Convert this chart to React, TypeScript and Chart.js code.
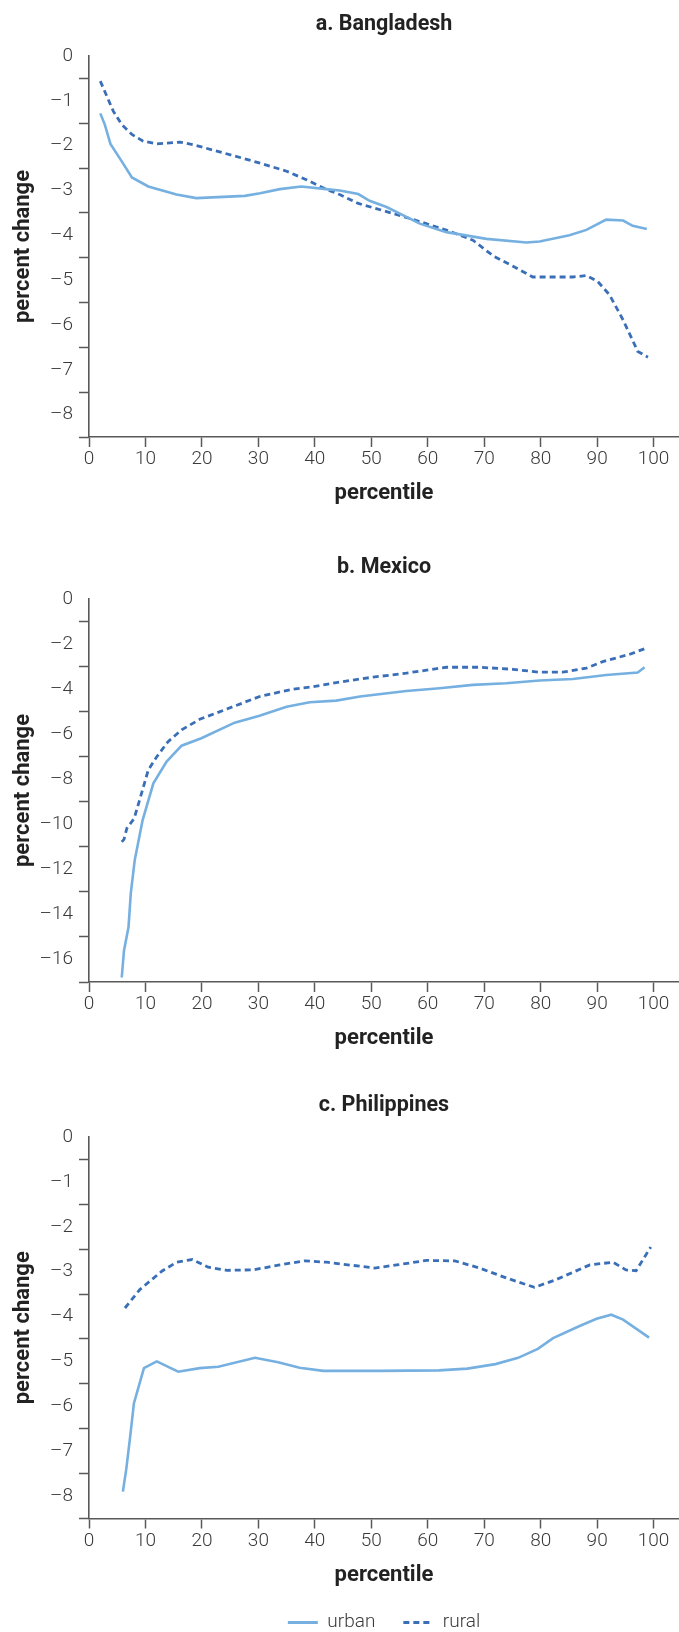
import React, { useEffect, useRef } from "react";
import { Chart, registerables } from "chart.js";

Chart.register(...registerables);

// ---------- data ----------
const xTickValues = [0, 10, 20, 30, 40, 50, 60, 70, 80, 90, 100];
const seriesNames = ["urban", "rural"];
const panelTitles = ["a. Bangladesh", "b. Mexico", "c. Philippines"];

const bdYLabels = [0, -1, -2, -3, -4, -5, -6, -7, -8];
const mxYLabels = [0, -2, -4, -6, -8, -10, -12, -14, -16];
const phYLabels = [0, -1, -2, -3, -4, -5, -6, -7, -8];

// a. Bangladesh
const bdUrbanX = [2, 2.8, 3.8, 5.8, 7.6, 10.5, 15.5, 19, 27.6, 30.3, 33.8, 37.6, 42, 44.4, 47.7, 49.7, 52.7, 58.6, 63.3, 70.4, 77.5, 79.8, 85.1, 88.1, 91.6, 94.6, 96.3, 98.8];
const bdUrbanY = [-1.28, -1.53, -1.96, -2.35, -2.71, -2.91, -3.09, -3.17, -3.12, -3.06, -2.97, -2.91, -2.97, -3.0, -3.08, -3.23, -3.37, -3.74, -3.93, -4.08, -4.16, -4.14, -4.0, -3.88, -3.65, -3.67, -3.79, -3.86];
const bdRuralX = [2, 4.3, 5.8, 7.6, 9.6, 12, 16.1, 18.5, 25.5, 30.3, 35, 38.5, 42.1, 44.4, 47.7, 52.7, 58, 63.9, 68, 71.6, 75.1, 78.6, 85.7, 88.1, 90.1, 92.2, 94.6, 97.2, 99];
const bdRuralY = [-0.56, -1.23, -1.53, -1.75, -1.9, -1.96, -1.92, -1.98, -2.22, -2.39, -2.57, -2.76, -2.98, -3.09, -3.29, -3.47, -3.67, -3.91, -4.11, -4.46, -4.69, -4.93, -4.93, -4.9, -5.03, -5.33, -5.89, -6.59, -6.72];

// b. Mexico
const mxUrbanX = [5.8, 6.2, 7.0, 7.4, 8.1, 9.5, 11.4, 13.75, 16.4, 19.9, 25.8, 30.2, 35, 39.1, 43.8, 48, 56.2, 62.1, 68, 73.9, 79.8, 85.7, 91.6, 97.2, 98.4];
const mxUrbanY = [-16.8, -15.6, -14.56, -13.07, -11.59, -9.81, -8.18, -7.22, -6.51, -6.18, -5.49, -5.18, -4.78, -4.58, -4.51, -4.33, -4.08, -3.96, -3.81, -3.74, -3.62, -3.55, -3.37, -3.26, -3.03];
const mxRuralX = [5.8, 6.2, 6.7, 8.0, 9.3, 10.5, 12, 14, 16.4, 19.6, 25.5, 30.2, 36.1, 39.7, 43.8, 48, 50.3, 56.2, 63.3, 69.2, 75.1, 79.8, 83.9, 88.1, 91, 95.8, 98.7];
const mxRuralY = [-10.78, -10.67, -10.18, -9.74, -8.63, -7.59, -7.0, -6.33, -5.81, -5.34, -4.78, -4.33, -4.0, -3.89, -3.71, -3.55, -3.47, -3.29, -3.03, -3.03, -3.12, -3.25, -3.25, -3.07, -2.78, -2.45, -2.18];

// c. Philippines
const phUrbanX = [6.0, 6.6, 7.26, 7.96, 9.73, 12, 15.8, 19.6, 22.9, 29.4, 33.5, 37.3, 41.5, 51.5, 62, 67, 72, 76, 79.5, 82.2, 86.9, 89.9, 92.5, 94.6, 99.2];
const phUrbanY = [-7.9, -7.4, -6.71, -5.93, -5.15, -5.0, -5.23, -5.15, -5.12, -4.92, -5.02, -5.14, -5.21, -5.21, -5.2, -5.16, -5.06, -4.92, -4.72, -4.48, -4.21, -4.05, -3.96, -4.07, -4.47];
const phRuralX = [6.37, 9, 12.9, 15.5, 18.3, 21.1, 24.4, 29.1, 33.8, 38.2, 42.1, 48, 50.6, 54.5, 59.8, 64.8, 69.2, 73.9, 78.9, 82.7, 88.7, 92.8, 95.1, 96.9, 99.5];
const phRuralY = [-3.81, -3.4, -2.99, -2.79, -2.73, -2.9, -2.97, -2.96, -2.85, -2.76, -2.79, -2.88, -2.92, -2.85, -2.75, -2.76, -2.92, -3.14, -3.35, -3.18, -2.85, -2.79, -2.96, -2.98, -2.45];

// ---------- styles ----------
const URBAN = "#75b0e1";
const RURAL = "#3a6fb7";
const AXIS = "#595959";
const TEXT = "#3a3a3a";
const DARK = "#222222";
const FAMILY = "Roboto, 'Noto Sans', 'DejaVu Sans', sans-serif";

function toPoints(xs: number[], ys: number[]) {
  return xs.map((x, i) => ({ x, y: ys[i] }));
}

function fmtY(v: number) {
  if (v === 0) return "0";
  return "\u2013" + Math.abs(v);
}

type PanelProps = {
  title: string;
  urbanX: number[];
  urbanY: number[];
  ruralX: number[];
  ruralY: number[];
  yLabels: number[];
  top: number;
  height: number;
  xScaleHeight: number;
  xTitlePadBottom: number;
  showLegend: boolean;
};

function Panel(p: PanelProps) {
  const ref = useRef<HTMLCanvasElement>(null);
  useEffect(() => {
    const labels = p.yLabels;
    const step = Math.abs(labels[1] - labels[0]);
    const yMin = labels[labels.length - 1] - step / 2;
    const tickVals: number[] = [];
    labels.forEach((v) => {
      tickVals.push(v);
      tickVals.push(v - step / 2);
    });
    tickVals.sort((a, b) => a - b);
    const labelSet = new Set(labels);

    const chart = new Chart(ref.current as HTMLCanvasElement, {
      type: "line",
      data: {
        datasets: [
          {
            label: seriesNames[0],
            data: toPoints(p.urbanX, p.urbanY),
            borderColor: URBAN,
            backgroundColor: URBAN,
            borderWidth: 2.6,
            pointRadius: 0,
            tension: 0,
            fill: false,
          },
          {
            label: seriesNames[1],
            data: toPoints(p.ruralX, p.ruralY),
            borderColor: RURAL,
            backgroundColor: RURAL,
            borderWidth: 2.8,
            borderDash: [6, 4],
            pointRadius: 0,
            tension: 0,
            fill: false,
          },
        ],
      },
      options: {
        responsive: false,
        maintainAspectRatio: false,
        animation: false,
        layout: { padding: 0 },
        events: [],
        plugins: {
          title: {
            display: true,
            text: p.title,
            fullSize: false,
            color: DARK,
            font: { family: FAMILY, weight: "bold", size: 21.5, lineHeight: 1.2 },
            padding: { top: 12, bottom: 18.2 },
          },
          legend: p.showLegend
            ? {
                display: true,
                position: "bottom",
                fullSize: false,
                align: "center",
                labels: {
                  usePointStyle: true,
                  pointStyleWidth: 30,
                  padding: 28,
                  color: TEXT,
                  font: { family: FAMILY, size: 19, weight: 300 },
                  generateLabels: (c: any) =>
                    c.data.datasets.map((ds: any, i: number) => ({
                      text: ds.label,
                      fillStyle: ds.borderColor,
                      strokeStyle: ds.borderColor,
                      fontColor: TEXT,
                      lineWidth: 3,
                      lineDash: ds.borderDash || [],
                      pointStyle: "line",
                      hidden: false,
                      datasetIndex: i,
                    })),
                },
              }
            : { display: false },
          tooltip: { enabled: false },
        },
        scales: {
          x: {
            type: "linear",
            min: 0,
            max: 104.5,
            afterBuildTicks: (s: any) => {
              s.ticks = xTickValues.map((v) => ({ value: v }));
            },
            afterFit: (s: any) => {
              s.height = p.xScaleHeight;
            },
            ticks: {
              autoSkip: false,
              maxRotation: 0,
              padding: 1,
              color: TEXT,
              font: { family: FAMILY, size: 19, weight: 300, lineHeight: 1.2 },
            },
            grid: {
              display: true,
              drawOnChartArea: false,
              drawTicks: true,
              tickLength: 10,
              tickWidth: 1.5,
              tickColor: AXIS,
              color: AXIS,
            },
            border: { display: true, color: AXIS, width: 1.6 },
            title: {
              display: true,
              text: "percentile",
              color: DARK,
              font: { family: FAMILY, weight: "bold", size: 22, lineHeight: 1.2 },
              padding: { top: 0, bottom: p.xTitlePadBottom },
            },
          },
          y: {
            type: "linear",
            min: yMin,
            max: 0,
            afterBuildTicks: (s: any) => {
              s.ticks = tickVals.map((v) => ({ value: v }));
            },
            afterFit: (s: any) => {
              s.width = 89;
            },
            ticks: {
              autoSkip: false,
              padding: 6,
              color: TEXT,
              font: { family: FAMILY, size: 19, weight: 300, lineHeight: 1.2 },
              callback: (v: any) => (labelSet.has(Number(v)) ? fmtY(Number(v)) : ""),
            },
            grid: {
              display: true,
              drawOnChartArea: false,
              drawTicks: true,
              tickLength: 10,
              tickWidth: 1.5,
              tickColor: (ctx: any) =>
                ctx.tick && labelSet.has(ctx.tick.value) ? "rgba(0,0,0,0)" : AXIS,
              color: AXIS,
            },
            border: { display: true, color: AXIS, width: 1.6 },
            title: {
              display: true,
              text: "percent change",
              color: DARK,
              font: { family: FAMILY, weight: "bold", size: 22, lineHeight: 1.2 },
              padding: { top: 9.8, bottom: 0 },
            },
          },
        },
      } as any,
    });
    return () => chart.destroy();
  }, []);
  return (
    <canvas
      ref={ref}
      width={679}
      height={p.height}
      style={{ position: "absolute", left: 0, top: p.top, width: 679, height: p.height, display: "block" }}
    />
  );
}

export default function App() {
  return (
    <div
      style={{
        position: "absolute",
        left: 0,
        top: 0,
        width: 679,
        height: 1632,
        overflow: "hidden",
        background: "#ffffff",
      }}
    >
      <Panel
        title={panelTitles[0]}
        urbanX={bdUrbanX}
        urbanY={bdUrbanY}
        ruralX={bdRuralX}
        ruralY={bdRuralY}
        yLabels={bdYLabels}
        top={0}
        height={520}
        xScaleHeight={83}
        xTitlePadBottom={13.8}
        showLegend={false}
      />
      <Panel
        title={panelTitles[1]}
        urbanX={mxUrbanX}
        urbanY={mxUrbanY}
        ruralX={mxRuralX}
        ruralY={mxRuralY}
        yLabels={mxYLabels}
        top={543}
        height={522}
        xScaleHeight={83}
        xTitlePadBottom={13.8}
        showLegend={false}
      />
      <Panel
        title={panelTitles[2]}
        urbanX={phUrbanX}
        urbanY={phUrbanY}
        ruralX={phRuralX}
        ruralY={phRuralY}
        yLabels={phYLabels}
        top={1081}
        height={561}
        xScaleHeight={66.5}
        xTitlePadBottom={-3.7}
        showLegend={true}
      />
    </div>
  );
}
